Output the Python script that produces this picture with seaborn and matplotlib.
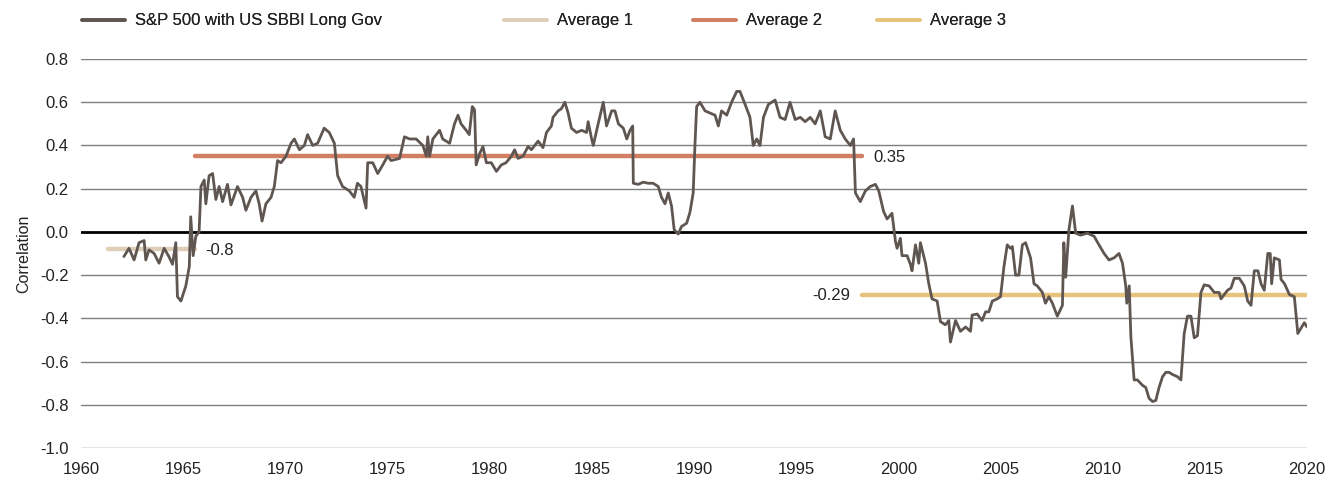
import matplotlib
matplotlib.use("Agg")
import matplotlib.pyplot as plt
import seaborn as sns
import pandas as pd
from matplotlib.lines import Line2D

years = [
    1962.1, 1962.35, 1962.6, 1962.84, 1963.09, 1963.17, 1963.33, 1963.58, 1963.82, 1964.07,
    1964.3, 1964.48, 1964.64, 1964.72, 1964.89, 1965.13, 1965.3, 1965.37, 1965.49, 1965.62,
    1965.78, 1965.87, 1966.03, 1966.11, 1966.27, 1966.44, 1966.6, 1966.76, 1966.93, 1967.17,
    1967.34, 1967.66, 1967.91, 1968.07, 1968.32, 1968.56, 1968.72, 1968.86, 1969.05, 1969.3,
    1969.46, 1969.62, 1969.79, 1970.03, 1970.28, 1970.44, 1970.69, 1970.93, 1971.09, 1971.34,
    1971.58, 1971.9, 1972.15, 1972.4, 1972.56, 1972.8, 1973.13, 1973.37, 1973.53, 1973.7,
    1973.95, 1974.03, 1974.28, 1974.52, 1974.77, 1975.0, 1975.18, 1975.59, 1975.83, 1976.08,
    1976.4, 1976.73, 1976.9, 1976.97, 1977.06, 1977.22, 1977.55, 1977.7, 1978.04, 1978.28,
    1978.45, 1978.6, 1978.85, 1979.0, 1979.15, 1979.26, 1979.34, 1979.5, 1979.67, 1979.84,
    1980.08, 1980.33, 1980.57, 1980.8, 1981.06, 1981.22, 1981.39, 1981.63, 1981.88, 1982.04,
    1982.37, 1982.61, 1982.78, 1983.02, 1983.1, 1983.35, 1983.51, 1983.68, 1983.84, 1984.0,
    1984.25, 1984.5, 1984.74, 1984.82, 1984.99, 1985.07, 1985.31, 1985.56, 1985.72, 1985.97,
    1986.13, 1986.3, 1986.54, 1986.71, 1986.87, 1987.0, 1987.03, 1987.27, 1987.52, 1987.76,
    1988.0, 1988.25, 1988.41, 1988.58, 1988.74, 1988.9, 1989.03, 1989.23, 1989.39, 1989.64,
    1989.8, 1989.96, 1990.05, 1990.13, 1990.29, 1990.54, 1990.78, 1991.03, 1991.19, 1991.35,
    1991.6, 1991.84, 1992.09, 1992.25, 1992.5, 1992.74, 1992.9, 1993.07, 1993.23, 1993.4,
    1993.64, 1993.97, 1994.21, 1994.46, 1994.7, 1994.95, 1995.2, 1995.44, 1995.69, 1995.93,
    1996.18, 1996.42, 1996.67, 1996.91, 1997.16, 1997.4, 1997.65, 1997.81, 1997.9, 1998.14,
    1998.39, 1998.63, 1998.88, 1999.04, 1999.28, 1999.45, 1999.69, 1999.86, 1999.94, 2000.1,
    2000.18, 2000.43, 2000.59, 2000.67, 2000.84, 2001.0, 2001.08, 2001.33, 2001.49, 2001.65,
    2001.9, 2002.06, 2002.3, 2002.47, 2002.55, 2002.8, 2003.04, 2003.29, 2003.53, 2003.61,
    2003.86, 2004.1, 2004.27, 2004.43, 2004.6, 2004.84, 2005.0, 2005.17, 2005.33, 2005.49,
    2005.58, 2005.74, 2005.9, 2006.07, 2006.23, 2006.47, 2006.64, 2006.8, 2007.05, 2007.2,
    2007.37, 2007.54, 2007.78, 2008.03, 2008.1, 2008.19, 2008.35, 2008.52, 2008.68, 2008.92,
    2009.25, 2009.58, 2009.82, 2010.07, 2010.31, 2010.56, 2010.8, 2010.97, 2011.13, 2011.18,
    2011.3, 2011.38, 2011.54, 2011.7, 2011.95, 2012.11, 2012.27, 2012.44, 2012.6, 2012.76,
    2012.93, 2013.09, 2013.25, 2013.42, 2013.66, 2013.83, 2013.99, 2014.15, 2014.32, 2014.48,
    2014.64, 2014.81, 2014.97, 2015.21, 2015.46, 2015.7, 2015.79, 2015.95, 2016.11, 2016.28,
    2016.44, 2016.69, 2016.93, 2017.1, 2017.26, 2017.42, 2017.6, 2017.75, 2017.91, 2018.08,
    2018.2, 2018.27, 2018.4, 2018.65, 2018.73, 2018.9, 2019.14, 2019.38, 2019.55, 2019.68,
    2019.87, 2020.0,
]
correlation = [
    -0.114, -0.076, -0.13, -0.05, -0.04, -0.13, -0.083, -0.10, -0.145, -0.076,
    -0.114, -0.15, -0.05, -0.30, -0.32, -0.25, -0.16, 0.07, -0.11, -0.02,
    0.0, 0.21, 0.24, 0.13, 0.26, 0.27, 0.15, 0.21, 0.14, 0.22,
    0.125, 0.21, 0.16, 0.10, 0.16, 0.19, 0.13, 0.05, 0.13, 0.16,
    0.21, 0.33, 0.32, 0.35, 0.41, 0.43, 0.38, 0.40, 0.45, 0.40,
    0.41, 0.48, 0.46, 0.41, 0.26, 0.21, 0.19, 0.16, 0.225, 0.21,
    0.11, 0.32, 0.32, 0.27, 0.31, 0.35, 0.33, 0.34, 0.44, 0.43,
    0.43, 0.40, 0.35, 0.44, 0.35, 0.43, 0.47, 0.43, 0.41, 0.50,
    0.54, 0.50, 0.47, 0.45, 0.58, 0.565, 0.31, 0.36, 0.395, 0.32,
    0.32, 0.28, 0.31, 0.32, 0.35, 0.38, 0.34, 0.35, 0.395, 0.38,
    0.42, 0.39, 0.46, 0.49, 0.53, 0.56, 0.57, 0.60, 0.55, 0.48,
    0.46, 0.47, 0.46, 0.51, 0.43, 0.40, 0.50, 0.60, 0.49, 0.56,
    0.56, 0.50, 0.48, 0.43, 0.47, 0.49, 0.225, 0.22, 0.23, 0.225,
    0.225, 0.21, 0.16, 0.13, 0.18, 0.12, 0.01, -0.01, 0.025, 0.04,
    0.09, 0.18, 0.41, 0.58, 0.60, 0.56, 0.55, 0.54, 0.49, 0.56,
    0.54, 0.60, 0.65, 0.65, 0.59, 0.53, 0.40, 0.43, 0.40, 0.53,
    0.59, 0.61, 0.53, 0.52, 0.60, 0.52, 0.53, 0.51, 0.53, 0.50,
    0.56, 0.44, 0.43, 0.56, 0.47, 0.43, 0.40, 0.43, 0.18, 0.14,
    0.19, 0.21, 0.22, 0.19, 0.094, 0.06, 0.086, -0.045, -0.076, -0.03,
    -0.11, -0.11, -0.15, -0.18, -0.06, -0.145, -0.05, -0.145, -0.24, -0.31,
    -0.32, -0.415, -0.43, -0.41, -0.51, -0.41, -0.46, -0.44, -0.46, -0.385,
    -0.38, -0.41, -0.37, -0.37, -0.32, -0.31, -0.30, -0.16, -0.06, -0.076,
    -0.068, -0.20, -0.20, -0.06, -0.05, -0.12, -0.24, -0.25, -0.28, -0.33,
    -0.30, -0.33, -0.39, -0.34, -0.05, -0.21, 0.01, 0.12, -0.006, -0.015,
    -0.006, -0.02, -0.06, -0.10, -0.13, -0.12, -0.10, -0.145, -0.25, -0.33,
    -0.25, -0.485, -0.685, -0.685, -0.71, -0.72, -0.77, -0.785, -0.78, -0.72,
    -0.67, -0.65, -0.65, -0.66, -0.67, -0.685, -0.47, -0.39, -0.39, -0.49,
    -0.48, -0.28, -0.245, -0.25, -0.28, -0.28, -0.31, -0.29, -0.27, -0.26,
    -0.215, -0.215, -0.25, -0.32, -0.34, -0.18, -0.18, -0.24, -0.27, -0.10,
    -0.10, -0.24, -0.12, -0.13, -0.22, -0.24, -0.29, -0.30, -0.47, -0.45,
    -0.42, -0.44,
]

avg_names = ["Average 1", "Average 2", "Average 3"]
avg_values = [-0.08, 0.35, -0.29]
avg_labels = ["-0.8", "0.35", "-0.29"]
avg_start = [1961.3, 1965.6, 1998.2]
avg_end = [1965.6, 1998.2, 2020.0]

series_name = "S&P 500 with US SBBI Long Gov"
y_ticks = [0.8, 0.6, 0.4, 0.2, 0.0, -0.2, -0.4, -0.6, -0.8, -1.0]
x_ticks = [1960, 1965, 1970, 1975, 1980, 1985, 1990, 1995, 2000, 2005, 2010, 2015, 2020]

main_color = "#5f5652"
avg_colors = ["#dfcfb8", "#d17e62", "#e6c27a"]
text_color = "#222222"

sns.set_theme(style="white")
plt.rcParams["font.family"] = ["Liberation Sans", "DejaVu Sans"]

FS = 12
fig = plt.figure(figsize=(13.27, 4.91), dpi=100)
ax = fig.add_axes([81 / 1327, 1 - 448 / 491, (1307 - 81) / 1327, (448 - 59) / 491])

for yt in y_ticks:
    if yt == 0.0:
        continue
    ax.axhline(yt, color="#7f7f7f", lw=1.0, zorder=0)
ax.axhline(0.0, color="black", lw=2.0, zorder=1)

for name, v, x0, x1, c in zip(avg_names, avg_values, avg_start, avg_end, avg_colors):
    d = pd.DataFrame({"x": [x0, x1], "y": [v, v]})
    sns.lineplot(data=d, x="x", y="y", ax=ax, color=c, lw=3.2, solid_capstyle="round",
                 estimator=None, zorder=2)

df = pd.DataFrame({"year": years, "corr": correlation})
sns.lineplot(data=df, x="year", y="corr", ax=ax, color=main_color, lw=2.0,
             estimator=None, zorder=3)

# average labels
ax.text(avg_end[0] + 0.5, avg_values[0] - 0.005, avg_labels[0], ha="left", va="center", fontsize=FS, color=text_color)
ax.text(avg_end[1] + 0.6, avg_values[1] - 0.005, avg_labels[1], ha="left", va="center", fontsize=FS, color=text_color)
ax.text(avg_start[2] - 0.55, avg_values[2] - 0.005, avg_labels[2], ha="right", va="center", fontsize=FS, color=text_color)

ax.set_xlim(1960, 2020)
ax.set_ylim(-1.0, 0.8)
ax.set_xticks(x_ticks)
ax.set_xticklabels([str(t) for t in x_ticks])
ax.set_yticks(y_ticks)
ax.set_yticklabels([f"{t:.1f}" for t in y_ticks])
ax.tick_params(axis="both", length=0, labelsize=FS, colors=text_color)
ax.tick_params(axis="x", pad=10)
ax.tick_params(axis="y", pad=9)
ax.set_xlabel("")
ax.set_ylabel("Correlation", fontsize=11.5, color=text_color, labelpad=6)
for s in ax.spines.values():
    s.set_visible(False)

# legend entries (handle start pixel positions)
leg_names = [series_name] + avg_names
leg_colors = [main_color] + avg_colors
leg_x = [82, 504, 693, 877]
for name, c, px in zip(leg_names, leg_colors, leg_x):
    h = [Line2D([0], [0], color=c, lw=2.6)]
    lg = fig.legend(h, [name], loc="center left", bbox_to_anchor=((px - 15) / 1327, 1 - 21 / 491),
                    frameon=False, fontsize=FS, handlelength=2.6, handletextpad=0.6,
                    labelcolor=text_color)
    fig.add_artist(lg)

fig.savefig("out.png", dpi=100)
